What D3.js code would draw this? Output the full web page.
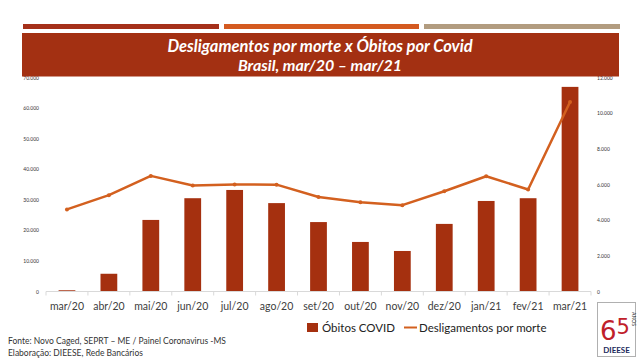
<!DOCTYPE html>
<html>
<head>
<meta charset="utf-8">
<script src="https://cdn.jsdelivr.net/npm/d3@7"></script>
<style>
  body { margin: 0; background: #fff; }
  svg { display: block; font-family: "Lato", "DejaVu Sans", sans-serif; }
</style>
</head>
<body>
<svg id="chart" width="640" height="360"></svg>
<script>
// data
var months = ["mar/20", "abr/20", "mai/20", "jun/20", "jul/20", "ago/20", "set/20",
              "out/20", "nov/20", "dez/20", "jan/21", "fev/21", "mar/21"];
var obitosCovid = [400, 5800, 23400, 30500, 33200, 28900, 22700,
                   16200, 13250, 22100, 29600, 30500, 66900];
var desligamentos = [4600, 5400, 6480, 5940, 6000, 5990, 5300,
                     5000, 4840, 5620, 6460, 5720, 10620];
var leftTicks = [0, 10000, 20000, 30000, 40000, 50000, 60000, 70000];
var rightTicks = [0, 2000, 4000, 6000, 8000, 10000, 12000];

var barColor = "#a5300f";
var lineColor = "#d3601f";

var svg = d3.select("#chart");
var ptBR = d3.formatLocale({decimal: ",", thousands: ".", grouping: [3], currency: ["R$", ""]});
var fmt = ptBR.format(",d");

var x = d3.scaleBand().domain(months).range([46, 591]).paddingInner(0.6).paddingOuter(0.3);
var yL = d3.scaleLinear().domain([0, 70000]).range([291.5, 77.4]);
var yR = d3.scaleLinear().domain([0, 12000]).range([291.5, 77.4]);

// axes (tiny tick labels, no lines)
var leftAxis = svg.append("g").attr("transform", "translate(42,0)")
    .call(d3.axisLeft(yL).tickValues(leftTicks).tickFormat(fmt).tickSize(0));
leftAxis.select(".domain").remove();
leftAxis.selectAll("text").attr("font-size", 5).attr("fill", "#333").attr("font-family", "Lato, sans-serif");

var rightAxis = svg.append("g").attr("transform", "translate(594,0)")
    .call(d3.axisRight(yR).tickValues(rightTicks).tickFormat(fmt).tickSize(0));
rightAxis.select(".domain").remove();
rightAxis.selectAll("text").attr("font-size", 5).attr("fill", "#333").attr("font-family", "Lato, sans-serif");

// bars
svg.append("g").selectAll("rect")
    .data(obitosCovid)
    .enter()
    .append("rect")
    .attr("x", function (d, i) { return x(months[i]); })
    .attr("width", x.bandwidth())
    .attr("y", function (d) { return yL(d); })
    .attr("height", function (d) { return yL(0) - yL(d); })
    .attr("fill", barColor);

// category axis
var step = x.step();
var xAxisG = svg.append("g").attr("transform", "translate(0,291.5)");
xAxisG.append("line")
    .attr("x1", 46).attr("x2", 591)
    .attr("stroke", "#d9d9d9").attr("stroke-width", 1);
xAxisG.selectAll(".tk")
    .data(d3.range(months.length + 1))
    .enter()
    .append("line")
    .attr("class", "tk")
    .attr("x1", function (i) { return 46 + i * step; })
    .attr("x2", function (i) { return 46 + i * step; })
    .attr("y1", 0).attr("y2", 4)
    .attr("stroke", "#d9d9d9");
xAxisG.selectAll("text")
    .data(months)
    .enter()
    .append("text")
    .attr("x", function (d) { return x(d) + x.bandwidth() / 2; })
    .attr("y", 18.5)
    .attr("text-anchor", "middle")
    .attr("font-size", 10.5)
    .attr("fill", "#404040")
    .text(function (d) { return d; });

// line
var line = d3.line()
    .x(function (d, i) { return x(months[i]) + x.bandwidth() / 2; })
    .y(function (d) { return yR(d); });

svg.append("path")
    .datum(desligamentos)
    .attr("d", line)
    .attr("fill", "none")
    .attr("stroke", lineColor)
    .attr("stroke-width", 2.5)
    .attr("stroke-linejoin", "round");

svg.append("g").selectAll("circle")
    .data(desligamentos)
    .enter()
    .append("circle")
    .attr("cx", function (d, i) { return x(months[i]) + x.bandwidth() / 2; })
    .attr("cy", function (d) { return yR(d); })
    .attr("r", 2)
    .attr("fill", lineColor);

// header stripes + title banner (drawn over the top tick labels)
var stripes = [[23, 219, "#a5301a"], [224, 419, "#d45a20"], [424, 620, "#b29c80"]];
svg.append("g").selectAll("rect")
    .data(stripes)
    .enter()
    .append("rect")
    .attr("x", function (d) { return d[0]; })
    .attr("width", function (d) { return d[1] - d[0]; })
    .attr("y", 24).attr("height", 5)
    .attr("fill", function (d) { return d[2]; });

svg.append("rect")
    .attr("x", 22).attr("y", 33).attr("width", 597).attr("height", 43.5)
    .attr("fill", "#a33012");

var title = svg.append("text")
    .attr("text-anchor", "middle")
    .attr("fill", "#fff")
    .attr("font-size", 16.5)
    .attr("font-weight", "bold")
    .attr("font-style", "italic");
title.append("tspan").attr("x", 320).attr("y", 51.5).text("Desligamentos por morte x Óbitos por Covid");
title.append("tspan").attr("x", 320).attr("y", 70.5).attr("font-size", 16).text("Brasil, mar/20 – mar/21");

// legend
var legend = svg.append("g").attr("font-size", 11.5).attr("fill", "#222");
legend.append("rect").attr("x", 307).attr("y", 323).attr("width", 11).attr("height", 9).attr("fill", barColor);
legend.append("text").attr("x", 322).attr("y", 332).text("Óbitos COVID");
legend.append("line").attr("x1", 404).attr("x2", 417).attr("y1", 327.5).attr("y2", 327.5)
    .attr("stroke", lineColor).attr("stroke-width", 2);
legend.append("text").attr("x", 419).attr("y", 332).text("Desligamentos por morte");

// footer
var foot = svg.append("g").attr("font-size", 8.5).attr("fill", "#333");
foot.append("text").attr("x", 8).attr("y", 344).text("Fonte: Novo Caged, SEPRT – ME /  Painel Coronavirus -MS");
foot.append("text").attr("x", 8).attr("y", 355.5).text("Elaboração: DIEESE, Rede  Bancários");

// logo
var logo = svg.append("g");
logo.append("rect").attr("x", 597.5).attr("y", 302.5).attr("width", 38).attr("height", 54)
    .attr("fill", "#fff").attr("stroke", "#b0b0b0").attr("stroke-width", 1);
logo.append("text").attr("x", 600).attr("y", 340).attr("font-size", 26).attr("fill", "#c0202a")
    .attr("font-family", "DejaVu Sans, sans-serif").text("6");
logo.append("text").attr("x", 616.5).attr("y", 334).attr("font-size", 21).attr("fill", "#c0202a")
    .attr("font-family", "DejaVu Sans, sans-serif").text("5");
logo.append("text").attr("transform", "translate(631.5,312) rotate(90)").attr("font-size", 5)
    .attr("fill", "#333").text("ANOS");
logo.append("text").attr("x", 616.5).attr("y", 353).attr("text-anchor", "middle")
    .attr("font-size", 8).attr("font-weight", "bold").attr("fill", "#1c2a5c").text("DIEESE");
</script>
</body>
</html>
